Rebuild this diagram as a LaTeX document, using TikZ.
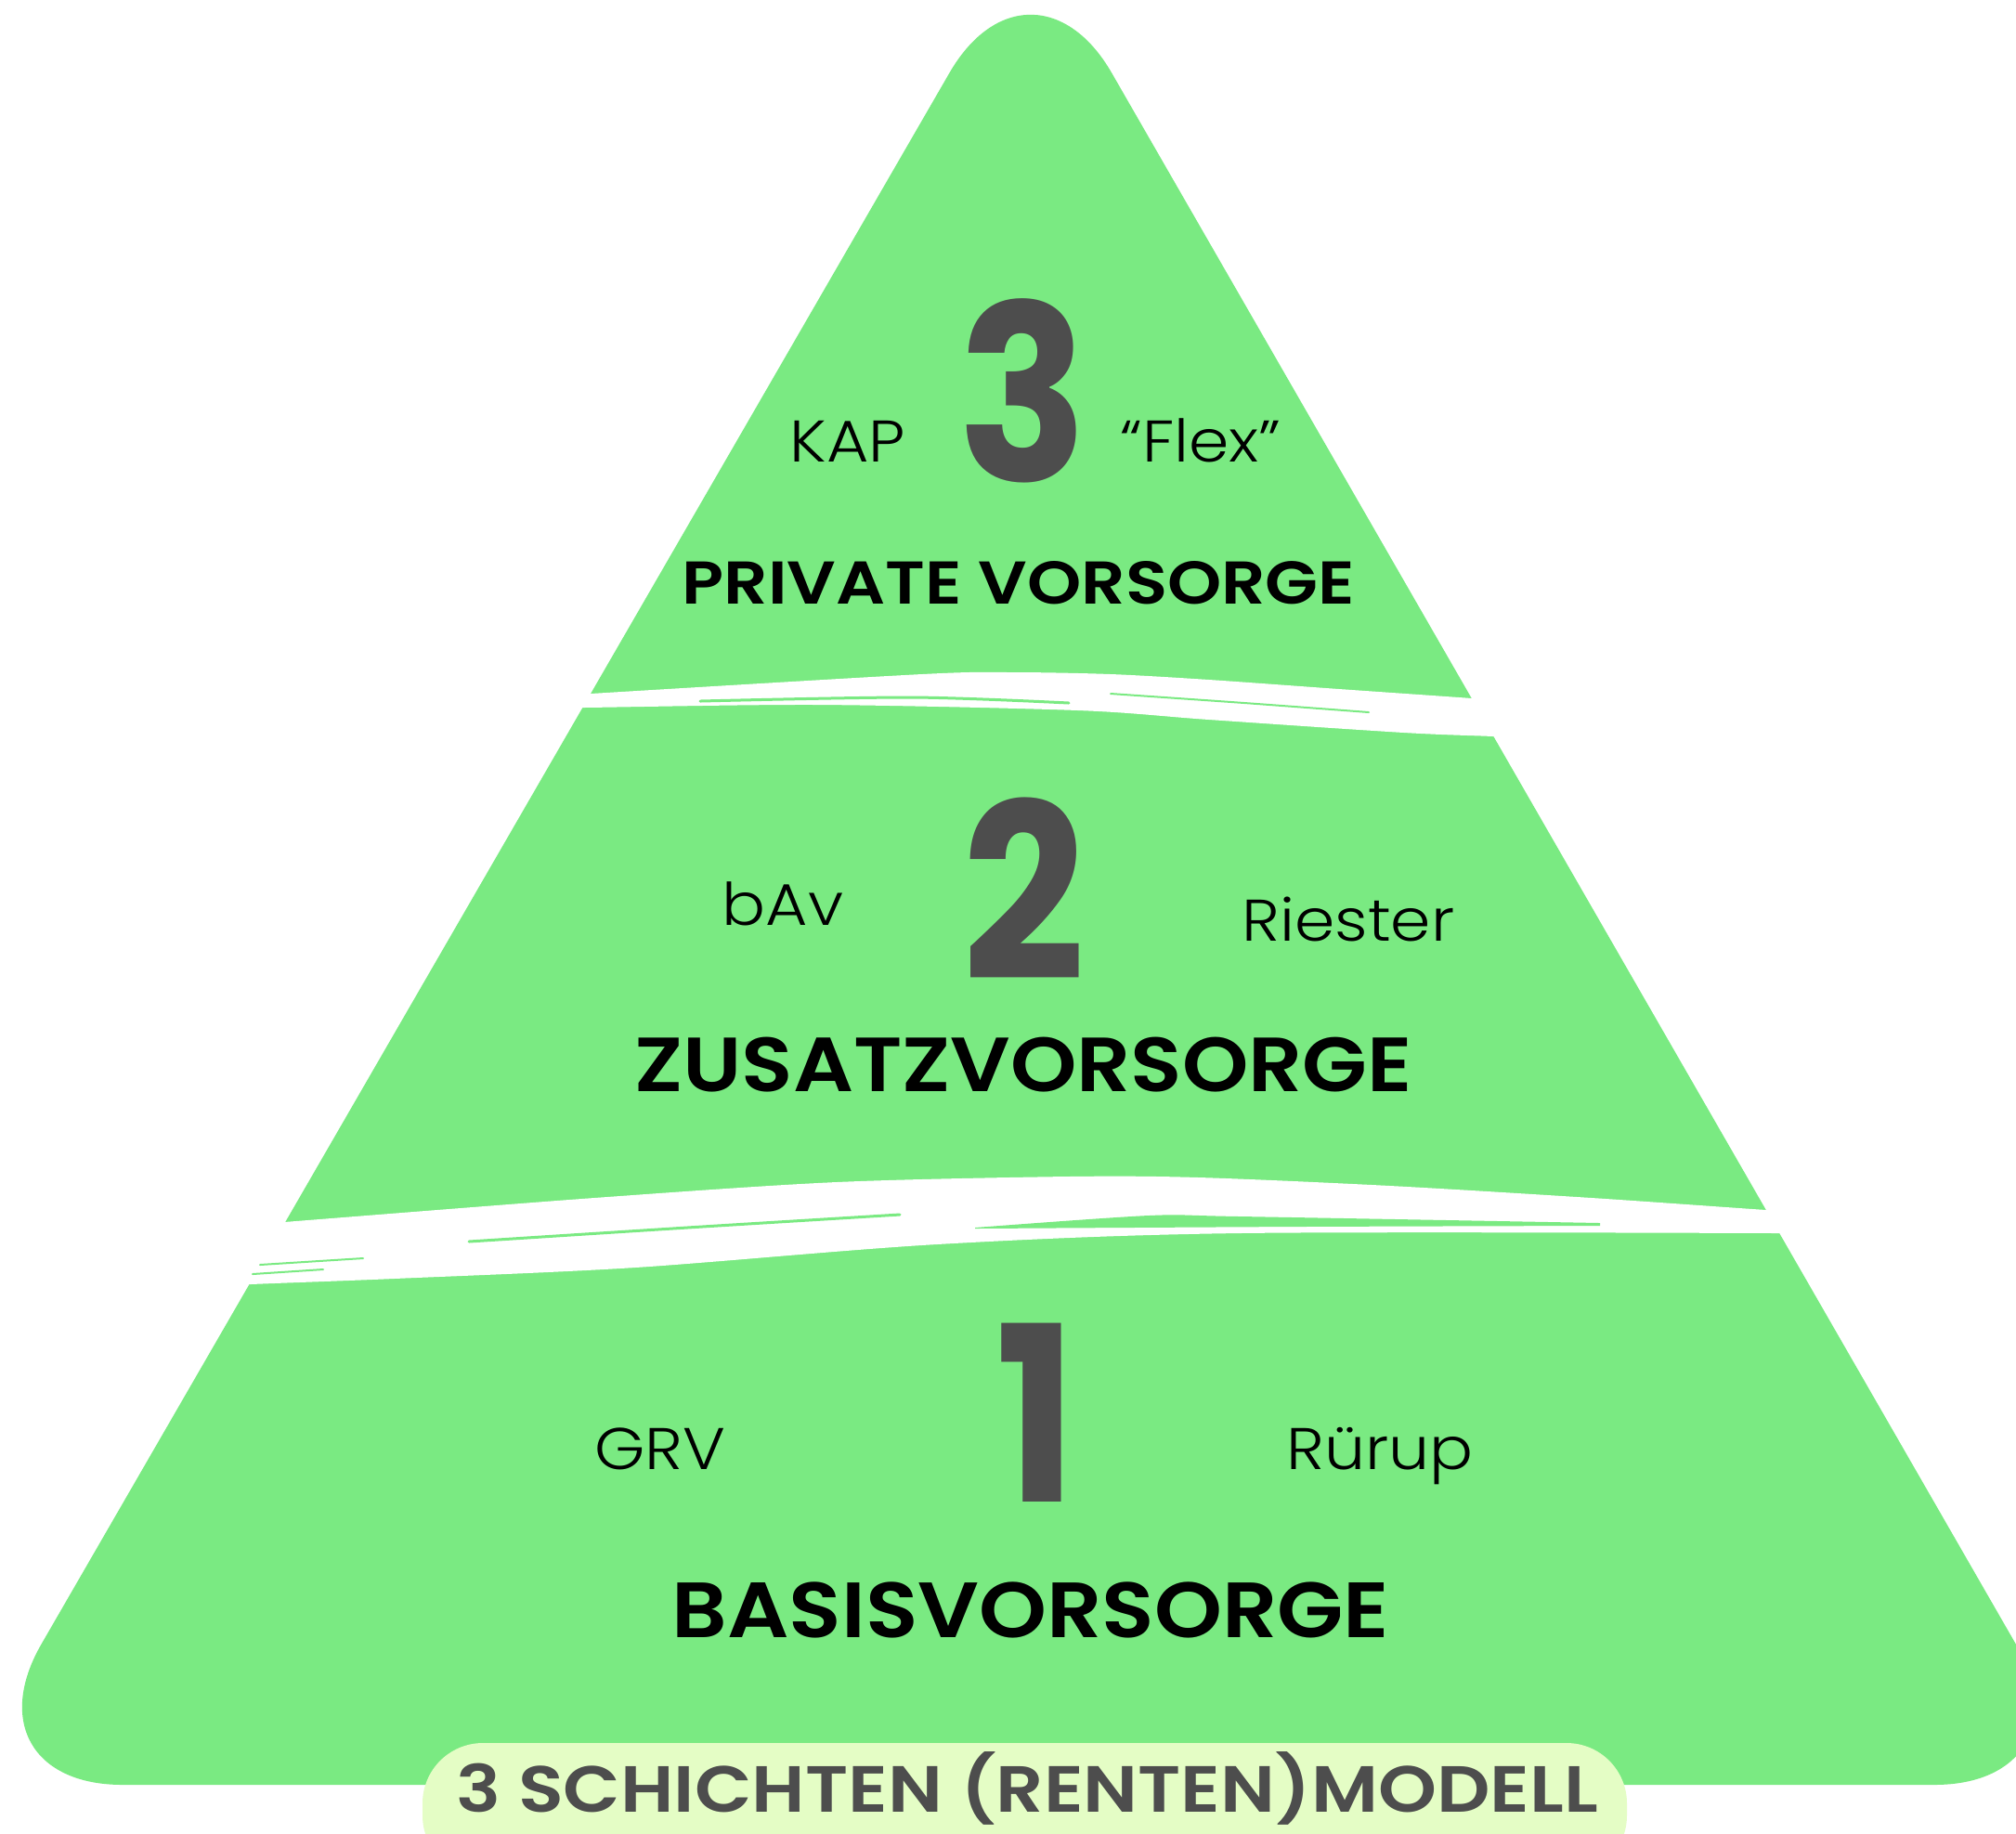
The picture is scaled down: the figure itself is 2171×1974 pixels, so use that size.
\documentclass[tikz,border=0pt]{standalone}
\usepackage{fontspec}
\newfontfamily\tagfont{Poppins Light}[FakeStretch=1.1]
\newfontfamily\titlefont{Poppins SemiBold}[FakeStretch=1.1]
\newfontfamily\widetitlefont{Poppins SemiBold}[FakeStretch=1.14]
\newfontfamily\numfont{Poppins Bold}[FakeStretch=0.88]

\definecolor{pyramidgreen}{HTML}{7AEA82}
\definecolor{pillgreen}{HTML}{E4FDC5}
\definecolor{numgray}{HTML}{4D4D4D}

\tikzset{
  layer num/.style={inner sep=0pt, anchor=base, text=numgray, font=\numfont\fontsize{75}{75}\selectfont},
  layer tag/.style={inner sep=0pt, anchor=base, text=black, font=\tagfont\fontsize{18}{18}\selectfont},
  layer title/.style={inner sep=0pt, anchor=base, text=black, font=\titlefont\fontsize{19}{19}\selectfont},
  brush/.style={fill=white},
  streak/.style={draw=pyramidgreen, line width=0.3mm, line cap=round},
}

\begin{document}
\begin{tikzpicture}[x=0.1mm, y=-0.1mm]
    \useasboundingbox[fill=white] (0,0) rectangle (2171,1974);
    \clip (0,0) rectangle (2171,1974);

    % the pyramid
    \fill[pyramidgreen, rounded corners=17.5mm]
        (1110,1922) -- (2258,1922) -- (1110,-73) -- (-43,1922) -- cycle;

    % brush strokes between the layers
    \fill[brush] plot[smooth] coordinates {(580,751) (636,747) (993,726) (1091,724) (1196,726) (1302,732) (1442,742) (1585,752) (1660,758)}
        -- plot[smooth] coordinates {(1660,796) (1608,793) (1512,789) (1302,775) (1161,765) (881,759) (628,762) (580,762)} -- cycle;
    \draw[streak] plot[smooth] coordinates {(754,755) (982,751) (1151,757)};
    \draw[streak, line width=0.2mm] plot[smooth] coordinates {(1196,747) (1340,757) (1474,767)};

    \fill[brush] plot[smooth] coordinates {(230,1322) (306,1316) (640,1290) (901,1273) (1150,1267) (1291,1268) (1497,1277) (1714,1290) (1902,1303) (1970,1307)}
        -- plot[smooth] coordinates {(1970,1330) (1917,1328) (1335,1328) (1009,1340) (684,1365) (424,1377) (270,1383) (220,1386)} -- cycle;
    \draw[streak] plot[smooth] coordinates {(505,1337) (740,1322) (969,1308)};
    \fill[pyramidgreen] plot[smooth] coordinates {(1050,1322) (1237,1309) (1335,1310) (1723,1317)}
        -- plot[smooth] coordinates {(1723,1320) (1400,1321) (1050,1323)} -- cycle;
    \draw[streak, line width=0.2mm] (280,1362) -- (391,1355);
    \draw[streak, line width=0.2mm] (272,1372) -- (348,1367);

    % layer 3
    \node[layer num] (num3) at (1102,518) {3};
    \node[layer tag] (kap) at (913,497) {KAP};
    \node[layer tag] (flex) at (1293,497) {“Flex”};
    \node[layer title, font=\widetitlefont\fontsize{18.5}{18.5}\selectfont] (private) at (1097,650) {PRIVATE VORSORGE};

    % layer 2
    \node[layer num] (num2) at (1103,1055) {2};
    \node[layer tag] (bav) at (843,996) {bAv};
    \node[layer tag] (riester) at (1452,1013) {Riester};
    \node[layer title, font=\titlefont\fontsize{23.5}{23.5}\selectfont] (zusatz) at (1102,1175) {ZUSATZVORSORGE};

    % layer 1
    \node[layer num] (num1) at (1116,1617) {1};
    \node[layer tag] (grv) at (711,1582) {GRV};
    \node[layer tag] (ruerup) at (1486,1582) {Rürup};
    \node[layer title, font=\titlefont\fontsize{24}{24}\selectfont] (basis) at (1110,1763) {BASISVORSORGE};

    % caption pill
    \fill[pillgreen, rounded corners=6.5mm] (455,1877) rectangle (1752,2020);
    \node[layer title, text=numgray, font=\widetitlefont\fontsize{20}{20}\selectfont] (caption) at (1106,1951) {3 SCHICHTEN (RENTEN)MODELL};
\end{tikzpicture}
\end{document}
